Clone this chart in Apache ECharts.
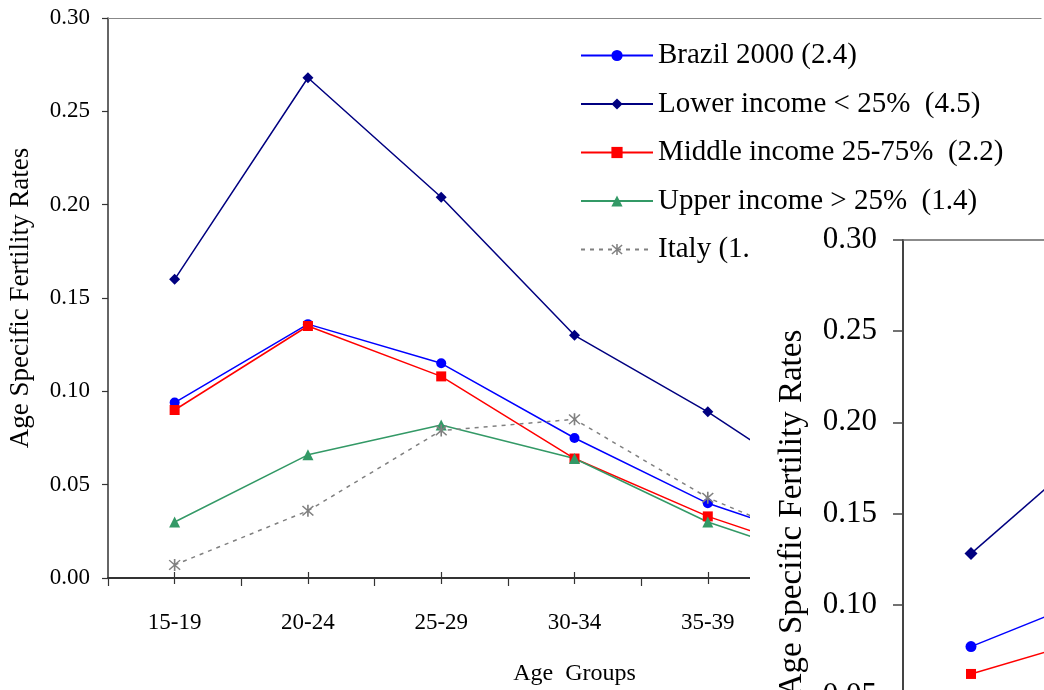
<!DOCTYPE html>
<html>
<head>
<meta charset="utf-8">
<script src="https://cdn.jsdelivr.net/npm/echarts@6/dist/echarts.min.js"></script>
<style>
html,body{margin:0;padding:0;background:#fff;}
#chart{width:1044px;height:690px;}
</style>
</head>
<body>
<div id="chart"></div>
<script>
// ---- data ----
const ageGroups = ['15-19','20-24','25-29','30-34','35-39','40-44','45-49'];
const yTicks = [0, 0.05, 0.10, 0.15, 0.20, 0.25, 0.30];

const brazil2000   = [0.094, 0.136, 0.115, 0.075, 0.040, 0.016, 0.004];
const lowerIncome  = [0.160, 0.268, 0.204, 0.130, 0.089, 0.042, 0.012];
const middleIncome = [0.090, 0.135, 0.108, 0.064, 0.033, 0.009, 0.002];
const upperIncome  = [0.030, 0.066, 0.082, 0.064, 0.030, 0.006, 0.001];
const italy        = [0.007, 0.036, 0.079, 0.085, 0.043, 0.013, 0.001];

// inset chart (partially visible, lower right)
const insetLower  = [0.128, 0.193];
const insetBrazil = [0.077, 0.107];
const insetMiddle = [0.062, 0.084];

const seriesNames = ['Brazil 2000 (2.4)', 'Lower income < 25%  (4.5)', 'Middle income 25-75%  (2.2)', 'Upper income > 25%  (1.4)', 'Italy (1.'];

const FONT = '"Liberation Serif", "Times New Roman", serif';
const asterisk = 'path://M4.4,0H5.6V10H4.4Z M0.6,1.4L1.4,0.6L9.4,8.6L8.6,9.4Z M8.6,0.6L9.4,1.4L1.4,9.4L0.6,8.6Z';

const chart = echarts.init(document.getElementById('chart'), null, {renderer: 'canvas'});

function mainLine(name, data, color, symbol, size, extra) {
  return Object.assign({
    name: name, type: 'line', data: data, xAxisIndex: 0, yAxisIndex: 0,
    symbol: symbol, symbolSize: size, showSymbol: true,
    lineStyle: {color: color, width: 1.5},
    itemStyle: {color: color},
    z: 3
  }, extra || {});
}
function insetLine(name, data, color, symbol, size) {
  return {
    name: name, type: 'line', data: data, xAxisIndex: 3, yAxisIndex: 1,
    symbol: symbol, symbolSize: size, showSymbol: true,
    lineStyle: {color: color, width: 1.5},
    itemStyle: {color: color},
    z: 62, silent: true
  };
}

const option = {
  animation: false,
  backgroundColor: '#fff',
  textStyle: {fontFamily: FONT, color: '#000'},
  legend: {
    data: seriesNames,
    orient: 'vertical',
    left: 575, top: 36,
    itemWidth: 72, itemHeight: 14, itemGap: 19.5,
    textStyle: {fontFamily: FONT, fontSize: 29, color: '#000'},
    z: 4
  },
  graphic: [{
    type: 'rect', left: 750, top: 226, z: 50,
    shape: {width: 294, height: 464},
    style: {fill: '#fff'}
  }],
  grid: [
    {left: 108, top: 18, width: 933, height: 560, outerBoundsMode: 'none'},
    {left: 903, top: 240, width: 952, height: 547, outerBoundsMode: 'none'}
  ],
  xAxis: [
    {
      type: 'category', gridIndex: 0, data: ageGroups, position: 'bottom',
      boundaryGap: true,
      axisLine: {onZero: false, lineStyle: {color: '#333', width: 2}},
      axisTick: {show: true, alignWithLabel: false, length: 8, lineStyle: {color: '#333', width: 1.2}},
      axisLabel: {fontFamily: FONT, fontSize: 23, color: '#000', margin: 33},
      name: 'Age  Groups', nameLocation: 'middle', nameGap: 84,
      nameTextStyle: {fontFamily: FONT, fontSize: 24, color: '#000'}
    },
    {
      type: 'category', gridIndex: 0, data: ageGroups, position: 'bottom', offset: -6,
      boundaryGap: true,
      axisLine: {show: false, onZero: false},
      axisTick: {show: true, alignWithLabel: true, length: 12, lineStyle: {color: '#333', width: 1.2}},
      axisLabel: {show: false}
    },
    {
      type: 'category', gridIndex: 0, data: ageGroups, position: 'top',
      axisLine: {show: true, onZero: false, lineStyle: {color: '#888', width: 1.2}},
      axisTick: {show: false}, axisLabel: {show: false}
    },
    {
      type: 'category', gridIndex: 1, data: ageGroups, position: 'top', z: 60,
      boundaryGap: true,
      axisLine: {show: true, onZero: false, lineStyle: {color: '#666', width: 1.5}},
      axisTick: {show: false}, axisLabel: {show: false}
    }
  ],
  yAxis: [
    {
      type: 'value', gridIndex: 0, min: 0, max: 0.3, interval: 0.05,
      axisLine: {show: true, lineStyle: {color: '#333', width: 1.5}},
      axisTick: {show: true, length: 6, lineStyle: {color: '#333', width: 1.2}},
      splitLine: {show: false},
      axisLabel: {fontFamily: FONT, fontSize: 23, color: '#000', margin: 18,
        formatter: v => v.toFixed(2)},
      name: 'Age Specific Fertility Rates', nameLocation: 'middle', nameGap: 74,
      nameTextStyle: {fontFamily: FONT, fontSize: 27, color: '#000'}
    },
    {
      type: 'value', gridIndex: 1, min: 0, max: 0.3, interval: 0.05, z: 60,
      axisLine: {show: true, lineStyle: {color: '#444', width: 2}},
      axisTick: {show: true, length: 10, lineStyle: {color: '#444', width: 1.5}},
      splitLine: {show: false},
      axisLabel: {fontFamily: FONT, fontSize: 31, color: '#000', margin: 26,
        formatter: v => v.toFixed(2)},
      name: 'Age Specific Fertility Rates', nameLocation: 'middle', nameGap: 94,
      nameTextStyle: {fontFamily: FONT, fontSize: 33, color: '#000'}
    }
  ],
  series: [
    mainLine(seriesNames[0], brazil2000, '#0000FF', 'circle', 10),
    mainLine(seriesNames[1], lowerIncome, '#000080', 'diamond', 11),
    mainLine(seriesNames[2], middleIncome, '#FF0000', 'rect', 10),
    mainLine(seriesNames[3], upperIncome, '#339966', 'triangle', 11),
    mainLine(seriesNames[4], italy, '#808080', asterisk, 12, {
      lineStyle: {color: '#808080', width: 1.5, type: [4, 5]}
    }),
    insetLine('Inset lower income', insetLower, '#000080', 'diamond', 13),
    insetLine('Inset Brazil', insetBrazil, '#0000FF', 'circle', 11),
    insetLine('Inset middle income', insetMiddle, '#FF0000', 'rect', 10)
  ]
};
chart.setOption(option);
</script>
</body>
</html>
